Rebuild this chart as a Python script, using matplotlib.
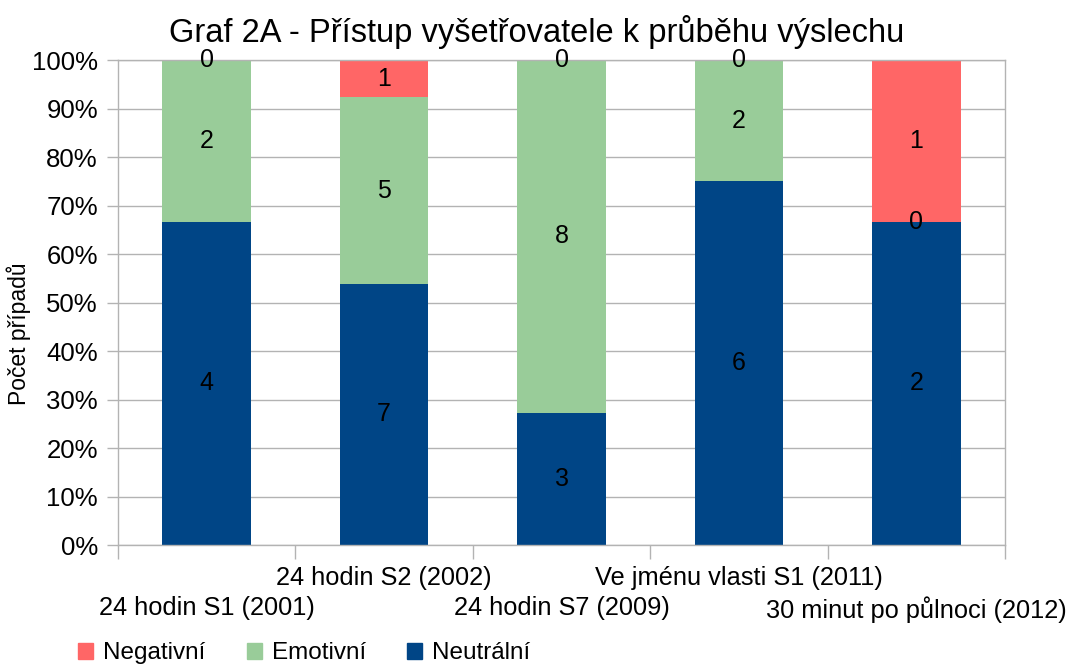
import matplotlib
matplotlib.use("Agg")
import matplotlib.pyplot as plt
import numpy as np
from matplotlib.patches import Patch

plt.rcParams['font.family'] = ['Liberation Sans', 'DejaVu Sans']

# Data
categories = ["24 hodin S1 (2001)", "24 hodin S2 (2002)", "24 hodin S7 (2009)",
              "Ve jménu vlasti S1 (2011)", "30 minut po půlnoci (2012)"]
neutralni = [4, 7, 3, 6, 2]
emotivni = [2, 5, 8, 2, 0]
negativni = [0, 1, 0, 0, 1]

series_names = ["Neutrální", "Emotivní", "Negativní"]
series_colors = ["#004586", "#99cc99", "#ff6666"]

counts = np.array([neutralni, emotivni, negativni], dtype=float)
totals = counts.sum(axis=0)
shares = counts / totals * 100

fig = plt.figure(figsize=(10.73, 6.64), dpi=100)
ax = fig.add_axes([0.110, 0.1792, 0.8266, 0.7304])

x = np.arange(len(categories))
bottom = np.zeros(len(categories))
for i, (name, color) in enumerate(zip(series_names, series_colors)):
    ax.bar(x, shares[i], width=0.5, bottom=bottom, color=color, label=name, zorder=2)
    # value labels in segment middles (zero segments sit on the boundary)
    for j in range(len(categories)):
        ax.text(x[j], bottom[j] + shares[i][j] / 2, f"{int(counts[i][j])}",
                ha='center', va='center', fontsize=18, color='black', zorder=3)
    bottom += shares[i]

ax.set_xlim(-0.5, len(categories) - 0.5)
ax.set_ylim(0, 100)
ax.set_yticks(np.arange(0, 101, 10))
ax.set_yticklabels([f"{v}%" for v in range(0, 101, 10)], fontsize=18.5)
ax.yaxis.grid(True, color='#b3b3b3', linewidth=1, zorder=0)

# category labels staggered in two rows
ax.set_xticks(x)
ax.set_xticklabels(categories, fontsize=18.3)
ax.tick_params(axis='x', which='major', length=0, pad=15)
for i, tick in enumerate(ax.xaxis.get_major_ticks()):
    if i % 2 == 0:
        tick.set_pad(15 + 21.6)
ax.set_xticks(np.arange(-0.5, len(categories)), minor=True)
ax.tick_params(axis='x', which='minor', length=10, color='#b3b3b3', width=1)
ax.tick_params(axis='y', length=8, color='#b3b3b3', width=1, pad=6.5)

for s in ax.spines.values():
    s.set_color('#b3b3b3')
    s.set_linewidth(1)

ax.set_ylabel("Počet případů", fontsize=16.5)
ax.yaxis.set_label_coords(-0.098, 0.435)

fig.suptitle("Graf 2A - Přístup vyšetřovatele k průběhu výslechu", fontsize=23.5,
             y=0.952, va='center')

handles = [Patch(color=series_colors[2]), Patch(color=series_colors[1]), Patch(color=series_colors[0])]
fig.legend(handles, ["Negativní", "Emotivní", "Neutrální"], loc='center left',
           bbox_to_anchor=(0.0727, 0.016), ncol=3, frameon=False, fontsize=17.5,
           borderpad=0, borderaxespad=0,
           handlelength=0.62, handleheight=0.62, handletextpad=0.41, columnspacing=1.7)

fig.savefig("out.png", dpi=100)
